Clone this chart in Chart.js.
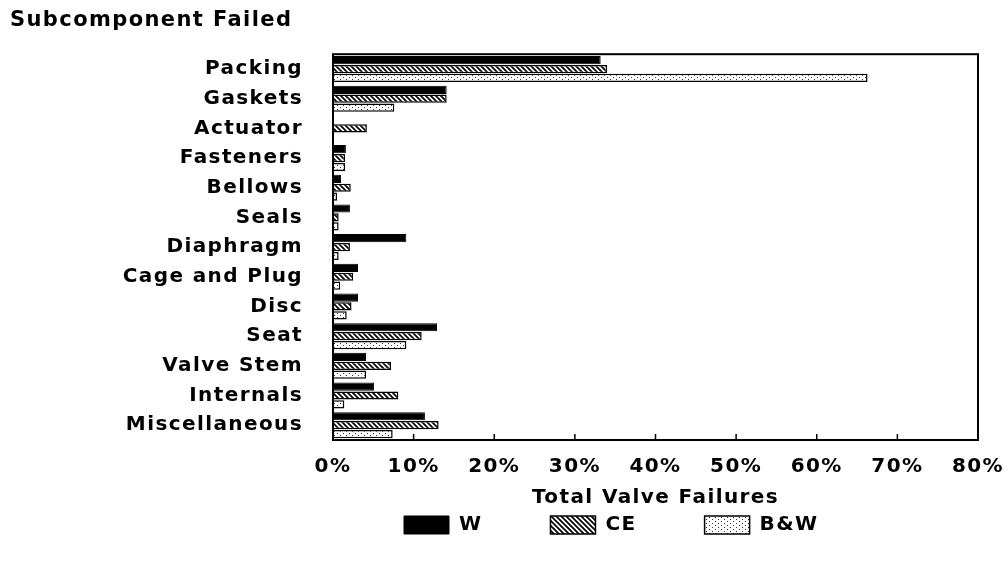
<!DOCTYPE html>
<html><head><meta charset="utf-8">
<script src="https://cdn.jsdelivr.net/npm/chart.js@4.4.1/dist/chart.umd.min.js"></script>
<style>html,body{margin:0;padding:0;background:#fff;}#wrap{width:1008px;height:571px;}</style>
</head><body><div id="wrap"><canvas id="c" width="1008" height="571"></canvas></div>
<script>
const categories = ['Packing','Gaskets','Actuator','Fasteners','Bellows','Seals','Diaphragm','Cage and Plug','Disc','Seat','Valve Stem','Internals','Miscellaneous'];
const seriesW  = [33.2, 14.1, 0,   1.6, 1.0, 2.1, 9.1, 3.1, 3.1, 12.9, 4.1, 5.1, 11.4];
const seriesCE = [34.0, 14.1, 4.2, 1.5, 2.2, 0.7, 2.1, 2.5, 2.3, 11.0, 7.2, 8.1, 13.1];
const seriesBW = [66.3, 7.6,  0,   1.5, 0.5, 0.7, 0.7, 0.9, 1.7, 9.1,  4.1, 1.4, 7.4];
const seriesNames = ['W','CE','B&W'];
const xTickValues = [0,10,20,30,40,50,60,70,80];
const xTickLabels = ['0%','10%','20%','30%','40%','50%','60%','70%','80%'];
const chartTitle = 'Subcomponent Failed';
const xAxisTitle = 'Total Valve Failures';

const canvas = document.getElementById('c');
const ctx = canvas.getContext('2d');

function hatchPattern(){
  const t=document.createElement('canvas'); t.width=5; t.height=5;
  const g=t.getContext('2d');
  g.fillStyle='#fff'; g.fillRect(0,0,5,5);
  g.strokeStyle='#000'; g.lineWidth=1.7; g.beginPath();
  g.moveTo(-1,-1); g.lineTo(6,6);
  g.moveTo(-1,4); g.lineTo(1,6);
  g.moveTo(4,-1); g.lineTo(6,1);
  g.stroke();
  return ctx.createPattern(t,'repeat');
}
function dotPattern(){
  const t=document.createElement('canvas'); t.width=6; t.height=4;
  const g=t.getContext('2d');
  g.fillStyle='#fff'; g.fillRect(0,0,6,4);
  g.fillStyle='#333'; g.fillRect(1,1,1,1); g.fillRect(4,3,1,1);
  return ctx.createPattern(t,'repeat');
}

const FONT = 'DejaVu Sans';
const boxPlugin = {
  id:'boxPlugin',
  beforeDraw(chart){ chart.ctx.letterSpacing='1.4px'; },
  afterLayout(chart){
    const lg = chart.legend; if(!lg) return;
    const p = lg.options.labels.padding;
    lg.left = 404 - p; lg.right = 1008; lg.top = 515 - p; lg.bottom = 571;
    lg.width = lg.right - lg.left; lg.height = lg.bottom - lg.top;
  },
  afterDraw(chart){
    const a = chart.chartArea, c = chart.ctx, xs = chart.scales.x;
    c.save();
    c.strokeStyle='#000'; c.lineWidth=2;
    c.strokeRect(a.left, a.top, a.right-a.left, a.bottom-a.top);
    c.lineWidth=1.5; c.beginPath();
    xTickValues.forEach(v=>{ const px = xs.getPixelForValue(v); c.moveTo(px,a.bottom); c.lineTo(px,a.bottom-6); });
    c.stroke();
    c.restore();
  }
};

new Chart(ctx, {
  type:'bar',
  data:{
    labels: categories,
    datasets:[
      {label:seriesNames[0], data:seriesW, backgroundColor:'#000', borderColor:'#000', borderWidth:1},
      {label:seriesNames[1], data:seriesCE, backgroundColor:hatchPattern(), borderColor:'#000', borderWidth:1.5},
      {label:seriesNames[2], data:seriesBW, backgroundColor:dotPattern(), borderColor:'#000', borderWidth:1.5}
    ]
  },
  options:{
    indexAxis:'y',
    responsive:false,
    animation:false,
    devicePixelRatio:1,
    layout:{padding:{left:10,right:30,top:0,bottom:31}},
    datasets:{bar:{categoryPercentage:0.9, barPercentage:0.92}},
    scales:{
      x:{
        min:0, max:80,
        afterBuildTicks(s){ s.ticks = xTickValues.map(v=>({value:v})); },
        ticks:{callback:(v,i)=>xTickLabels[i], color:'#000', font:{family:FONT, size:20, weight:'bold'}, padding:15, maxRotation:0},
        grid:{display:false, drawTicks:false},
        border:{display:false},
        title:{display:true, text:xAxisTitle, color:'#000', font:{family:FONT, size:20, weight:'bold'}, padding:{top:0,bottom:0}},
        afterFit(s){ s.height = 70; s.paddingRight = 0; s.paddingLeft = 0; }
      },
      y:{
        ticks:{color:'#000', font:{family:FONT, size:20, weight:'bold'}, padding:30, autoSkip:false},
        grid:{display:false, drawTicks:false},
        border:{display:false},
        afterFit(s){ s.width = 323; s.paddingTop = 0; s.paddingBottom = 0; }
      }
    },
    plugins:{
      title:{display:true, text:chartTitle, align:'start', color:'#000', font:{family:FONT, size:21, weight:'bold'}, padding:{top:8,bottom:21}},
      legend:{
        display:true, position:'bottom', align:'start', maxHeight:30,
        labels:{boxWidth:45, boxHeight:18, padding:68, color:'#000', font:{family:FONT, size:20, weight:'bold'}}
      },
      tooltip:{enabled:false}
    }
  },
  plugins:[boxPlugin]
});
</script></body></html>
